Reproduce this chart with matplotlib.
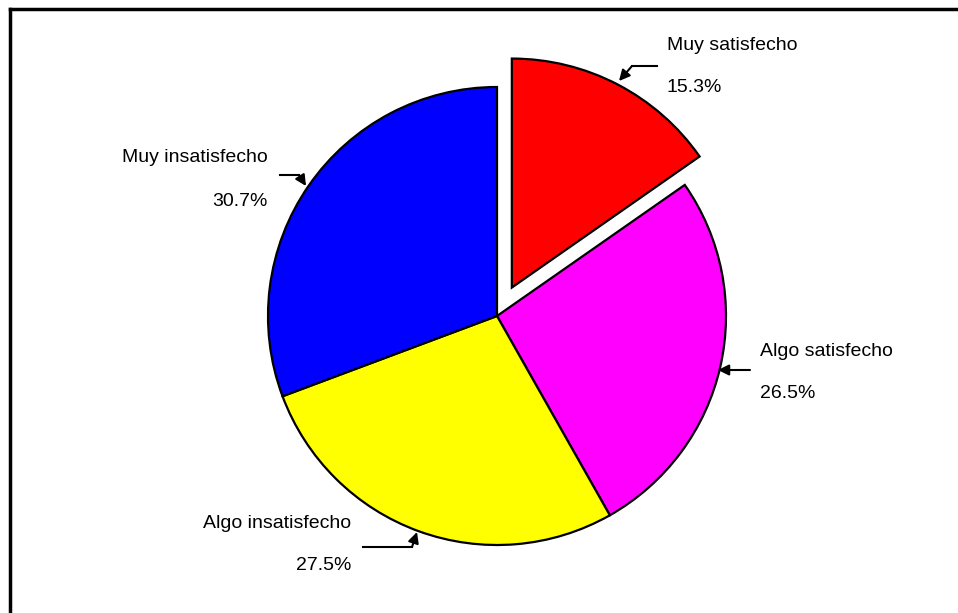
import matplotlib.pyplot as plt
from matplotlib.lines import Line2D

# Satisfaction survey pie
labels = ['Muy satisfecho', 'Algo satisfecho', 'Algo insatisfecho', 'Muy insatisfecho']
values = [15.3, 26.5, 27.5, 30.7]
colors = ['#ff0000', '#ff00ff', '#ffff00', '#0000ff']
explode = [0.14, 0, 0, 0]   # fraction of the radius

plt.rcParams['font.family'] = ['Liberation Sans', 'DejaVu Sans']

W, H = 958, 613
fig = plt.figure(figsize=(W / 100, H / 100), dpi=100)
ax = fig.add_axes([0, 0, 1, 1])

# work in pixel units, y measured from the top
cx, cy, r = 497, 316, 229
ax.pie(values, colors=colors, explode=[e * r for e in explode], startangle=90,
       counterclock=False, center=(cx, H - cy), radius=r, frame=True,
       wedgeprops=dict(edgecolor='black', linewidth=1.6))
ax.set_xlim(0, W)
ax.set_ylim(0, H)
ax.set_aspect('equal')
ax.axis('off')

# label text anchor (x, y of name line), alignment, leader path (arrow tip last)
label_pos = [
    (667, 45, 'left', [(657, 66), (632, 66), (619, 81)]),
    (760, 351, 'left', [(750, 370), (718, 370)]),
    (351, 523, 'right', [(363, 547), (412, 547), (417, 532)]),
    (268, 158, 'right', [(280, 175), (299, 175), (306, 186)]),
]

for name, val, (tx, ty, ha, path) in zip(labels, values, label_pos):
    ax.text(tx, H - ty, name, ha=ha, va='center', fontsize=14)
    ax.text(tx, H - ty - 43, f'{val}%', ha=ha, va='center', fontsize=14)
    xs = [p[0] for p in path]
    ys = [H - p[1] for p in path]
    ax.plot(xs[:-1], ys[:-1], color='black', lw=1.5)
    ax.annotate('', xy=(xs[-1], ys[-1]), xytext=(xs[-2], ys[-2]),
                arrowprops=dict(arrowstyle='-|>', color='black', lw=1.5,
                                mutation_scale=16, shrinkA=0, shrinkB=0))

# outer frame: only top and left visible
fig.add_artist(Line2D([9.5 / W, 1], [1 - 8.5 / H, 1 - 8.5 / H], color='black', lw=2.5,
                      transform=fig.transFigure))
fig.add_artist(Line2D([9.5 / W, 9.5 / W], [0, 1 - 8.5 / H], color='black', lw=2.5,
                      transform=fig.transFigure))

fig.savefig('out.png', dpi=100)
